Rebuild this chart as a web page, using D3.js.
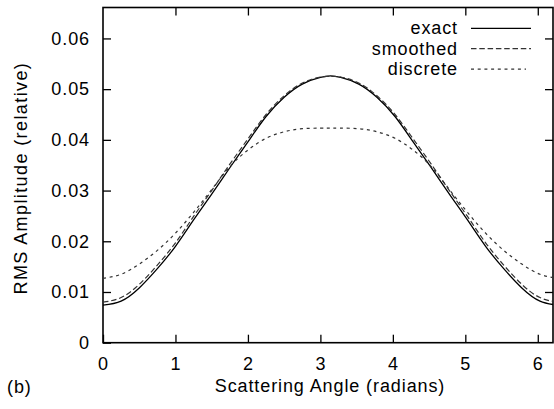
<!DOCTYPE html>
<html>
<head>
<meta charset="utf-8">
<script src="https://cdn.jsdelivr.net/npm/d3@7"></script>
<style>
  body { margin: 0; background: #fff; }
  svg text { font-family: "Liberation Sans", Arial, sans-serif; fill: #000; }
</style>
</head>
<body>
<svg id="chart" width="554" height="409"></svg>
<script>
// Data
const angles = [0, 0.25, 0.5, 0.75, 1, 1.25, 1.5, 1.75, 2, 2.25, 2.5, 2.75, 3, 3.14,
  3.28, 3.53, 3.78, 4.03, 4.28, 4.53, 4.78, 5.03, 5.28, 5.53, 5.78, 6.03, 6.28]
const exact = [0.0074, 0.0082, 0.0108, 0.0146, 0.0190, 0.0242, 0.0293, 0.0345, 0.0396, 0.0446, 0.0484, 0.0510, 0.0523, 0.0526,
  0.0523, 0.0510, 0.0484, 0.0446, 0.0396, 0.0345, 0.0293, 0.0242, 0.0190, 0.0146, 0.0108, 0.0082, 0.0074]
const smoothed = [0.0080, 0.0089, 0.0115, 0.0153, 0.0197, 0.0249, 0.0300, 0.0352, 0.0402, 0.0450, 0.0487, 0.0512, 0.0524, 0.0525,
  0.0524, 0.0512, 0.0487, 0.0450, 0.0402, 0.0352, 0.0300, 0.0249, 0.0197, 0.0153, 0.0115, 0.0089, 0.0080]
const discrete = [0.0127, 0.0135, 0.0155, 0.0182, 0.0216, 0.0257, 0.0302, 0.0347, 0.0380, 0.0403, 0.0416, 0.0422, 0.0423, 0.0423,
  0.0423, 0.0422, 0.0416, 0.0403, 0.0380, 0.0347, 0.0302, 0.0257, 0.0216, 0.0182, 0.0155, 0.0135, 0.0127]
const xTicks = [0, 1, 2, 3, 4, 5, 6]
const yTicks = [0, 0.01, 0.02, 0.03, 0.04, 0.05, 0.06]
const seriesNames = ['exact', 'smoothed', 'discrete']

const plot = { left: 103, right: 553, top: 7.5, bottom: 342.7 }
const tickLen = 8

const svg = d3.select('#chart')

const x = d3.scaleLinear().domain([0, 6.21]).range([plot.left, plot.right])
const y = d3.scaleLinear().domain([0, 0.0661]).range([plot.bottom, plot.top])

// clip for the curves
svg.append('clipPath').attr('id', 'clip')
  .append('rect')
  .attr('x', plot.left).attr('y', plot.top)
  .attr('width', plot.right - plot.left).attr('height', plot.bottom - plot.top)

// Axes (ticks pointing inward on all four sides)
const axisStyle = g => {
  g.select('.domain').remove()
  g.selectAll('.tick line').attr('stroke', '#000').attr('stroke-width', 1.3)
  g.selectAll('.tick text').style('font-size', '18px').style('letter-spacing', '0.9px')
}

svg.append('g')
  .attr('transform', `translate(0, ${plot.bottom})`)
  .call(d3.axisBottom(x).tickValues(xTicks).tickFormat(d3.format('d')).tickSizeInner(-tickLen).tickSizeOuter(0).tickPadding(15))
  .call(axisStyle)

svg.append('g')
  .attr('transform', `translate(0, ${plot.top})`)
  .call(d3.axisTop(x).tickValues(xTicks.slice(1)).tickFormat('').tickSizeInner(-tickLen).tickSizeOuter(0))
  .call(axisStyle)

svg.append('g')
  .attr('transform', `translate(${plot.left}, 0)`)
  .call(d3.axisLeft(y).tickValues(yTicks).tickFormat(d => d === 0 ? '0' : d3.format('.2f')(d)).tickSizeInner(-tickLen).tickSizeOuter(0).tickPadding(13))
  .call(axisStyle)

svg.append('g')
  .attr('transform', `translate(${plot.right}, 0)`)
  .call(d3.axisRight(y).tickValues(yTicks.slice(1)).tickFormat('').tickSizeInner(-tickLen).tickSizeOuter(0))
  .call(axisStyle)

// Border
svg.append('rect')
  .attr('x', plot.left).attr('y', plot.top)
  .attr('width', plot.right - plot.left).attr('height', plot.bottom - plot.top)
  .attr('fill', 'none').attr('stroke', '#000').attr('stroke-width', 1.6)

// Curves
const styles = {
  exact: { dash: null, color: '#000', width: 1.3 },
  smoothed: { dash: '5.5,2.8', color: '#333', width: 1.2 },
  discrete: { dash: '3,3.7', color: '#333', width: 1.2 }
}
const values = { exact, smoothed, discrete }

const line = d3.line()
  .x(d => x(d[0]))
  .y(d => y(d[1]))
  .curve(d3.curveNatural)

const curves = svg.append('g').attr('clip-path', 'url(#clip)')
seriesNames.forEach(name => {
  curves.append('path')
    .datum(angles.map((a, i) => [a, values[name][i]]))
    .attr('d', line)
    .attr('fill', 'none')
    .attr('stroke', styles[name].color)
    .attr('stroke-width', styles[name].width)
    .attr('stroke-dasharray', styles[name].dash)
})

// Legend
const legend = svg.append('g')
seriesNames.forEach((name, i) => {
  const yy = 28.3 + i * 20.4
  legend.append('text')
    .attr('x', 458).attr('y', yy + 6)
    .attr('text-anchor', 'end')
    .style('font-size', '18px').style('letter-spacing', '0.9px')
    .text(name)
  legend.append('line')
    .attr('x1', 471).attr('x2', name === 'discrete' ? 526 : 531)
    .attr('y1', yy).attr('y2', yy)
    .attr('stroke', styles[name].color)
    .attr('stroke-width', styles[name].width)
    .attr('stroke-dasharray', styles[name].dash)
})

// Axis titles
svg.append('text')
  .attr('x', (plot.left + plot.right) / 2 + 2).attr('y', 392)
  .attr('text-anchor', 'middle')
  .style('font-size', '18px').style('letter-spacing', '0.9px')
  .text('Scattering Angle (radians)')

svg.append('text')
  .attr('transform', `translate(27, ${(plot.top + plot.bottom) / 2 + 3}) rotate(-90)`)
  .attr('text-anchor', 'middle')
  .style('font-size', '18px').style('letter-spacing', '1.4px')
  .text('RMS Amplitude (relative)')

svg.append('text')
  .attr('x', 7).attr('y', 393)
  .style('font-size', '18px').style('letter-spacing', '0.9px')
  .text('(b)')
</script>
</body>
</html>
